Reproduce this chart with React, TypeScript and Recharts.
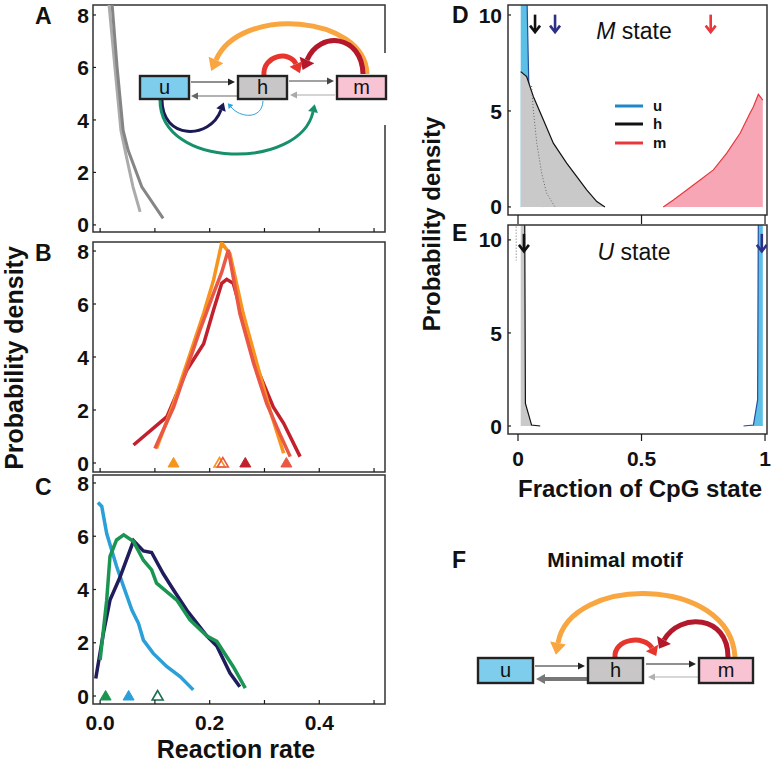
import React from "react";
import { ComposedChart, Line, Area, Scatter, XAxis, YAxis, ReferenceArea } from "recharts";

const FONT = '"Liberation Sans", Arial, Helvetica, sans-serif';
const INK = "#1a1a1a";

// ---- axes
const rateTicks = [0, 0.1, 0.2, 0.3, 0.4, 0.5];
const rateTickLabels = ["0.0", "", "0.2", "", "0.4", ""];
const densTicksLeft = [0, 2, 4, 6, 8];
const fracTicks = [0, 0.5, 1];
const fracTickLabels = ["0", "0.5", "1"];
const densTicksRight = [0, 5, 10];

// ---- panel A (grey curves)
const aGreyLight = [
  { x: 0.014, y: 8.9 }, { x: 0.027, y: 6.0 }, { x: 0.038, y: 3.6 },
  { x: 0.049, y: 2.5 }, { x: 0.06, y: 1.45 }, { x: 0.073, y: 0.5 },
];
const aGreyDark = [
  { x: 0.02, y: 8.9 }, { x: 0.031, y: 6.0 }, { x: 0.042, y: 3.6 },
  { x: 0.051, y: 2.85 }, { x: 0.076, y: 1.45 }, { x: 0.115, y: 0.25 },
];

// ---- panel B
const bOrange = [
  { x: 0.103, y: 0.55 }, { x: 0.134, y: 2.25 }, { x: 0.189, y: 5.65 }, { x: 0.207, y: 6.9 },
  { x: 0.222, y: 8.3 }, { x: 0.237, y: 7.9 }, { x: 0.261, y: 5.65 }, { x: 0.286, y: 3.77 },
  { x: 0.31, y: 2.0 }, { x: 0.335, y: 0.37 },
];
const bSalmon = [
  { x: 0.1, y: 0.55 }, { x: 0.134, y: 2.1 }, { x: 0.182, y: 5.0 }, { x: 0.207, y: 6.4 },
  { x: 0.222, y: 7.2 }, { x: 0.234, y: 8.04 }, { x: 0.255, y: 5.65 }, { x: 0.28, y: 3.77 },
  { x: 0.304, y: 2.25 }, { x: 0.328, y: 1.1 }, { x: 0.347, y: 0.24 },
];
const bDarkRed = [
  { x: 0.061, y: 0.68 }, { x: 0.122, y: 1.75 }, { x: 0.158, y: 3.5 }, { x: 0.189, y: 4.5 },
  { x: 0.207, y: 5.77 }, { x: 0.222, y: 6.78 }, { x: 0.231, y: 6.93 }, { x: 0.243, y: 6.78 },
  { x: 0.255, y: 5.9 }, { x: 0.28, y: 3.9 }, { x: 0.316, y: 2.12 }, { x: 0.335, y: 1.5 },
  { x: 0.365, y: 0.24 },
];
const bOrangeTri = [{ x: 0.134, y: 0 }];
const bOrangeOpen = [{ x: 0.218, y: 0 }];
const bSalmonOpen = [{ x: 0.224, y: 0 }];
const bDarkRedTri = [{ x: 0.265, y: 0 }];
const bSalmonTri = [{ x: 0.34, y: 0 }];

// ---- panel C
const cBlue = [
  { x: -0.004, y: 7.27 }, { x: 0.003, y: 7.12 }, { x: 0.012, y: 6.1 }, { x: 0.03, y: 4.87 },
  { x: 0.043, y: 4.1 }, { x: 0.058, y: 3.23 }, { x: 0.07, y: 2.73 }, { x: 0.079, y: 2.1 },
  { x: 0.097, y: 1.6 }, { x: 0.122, y: 1.1 }, { x: 0.146, y: 0.73 }, { x: 0.17, y: 0.23 },
];
const cNavy = [
  { x: -0.008, y: 0.66 }, { x: 0.006, y: 2.36 }, { x: 0.018, y: 3.6 }, { x: 0.036, y: 4.45 },
  { x: 0.061, y: 5.83 }, { x: 0.079, y: 5.45 }, { x: 0.094, y: 5.39 }, { x: 0.115, y: 4.6 },
  { x: 0.134, y: 3.98 }, { x: 0.158, y: 3.23 }, { x: 0.195, y: 2.25 }, { x: 0.213, y: 1.88 },
  { x: 0.237, y: 0.86 }, { x: 0.255, y: 0.35 },
];
const cGreen = [
  { x: 0.0, y: 1.35 }, { x: 0.012, y: 3.6 }, { x: 0.018, y: 5.24 }, { x: 0.03, y: 5.86 },
  { x: 0.043, y: 6.05 }, { x: 0.061, y: 5.8 }, { x: 0.079, y: 5.1 }, { x: 0.094, y: 4.74 },
  { x: 0.103, y: 4.24 }, { x: 0.14, y: 3.6 }, { x: 0.164, y: 2.86 }, { x: 0.195, y: 2.25 },
  { x: 0.213, y: 2.05 }, { x: 0.243, y: 1.1 }, { x: 0.265, y: 0.3 },
];
const cGreenTri = [{ x: 0.01, y: 0 }];
const cBlueTri = [{ x: 0.052, y: 0 }];
const cGreenOpen = [{ x: 0.105, y: 0 }];

// ---- panel D (M state)
const dU = [
  { x: 0.011, y: 15 }, { x: 0.034, y: 15 }, { x: 0.037, y: 10.5 }, { x: 0.044, y: 6.2 },
  { x: 0.05, y: 4 }, { x: 0.07, y: 1 }, { x: 0.1, y: 0 },
];
const dH = [
  { x: 0.011, y: 7.05 }, { x: 0.035, y: 6.79 }, { x: 0.062, y: 5.75 }, { x: 0.103, y: 4.53 },
  { x: 0.143, y: 3.32 }, { x: 0.197, y: 2.28 }, { x: 0.238, y: 1.58 }, { x: 0.278, y: 0.89 },
  { x: 0.319, y: 0.28 }, { x: 0.352, y: 0 },
];
const dDotted = [
  { x: 0.055, y: 6.3 }, { x: 0.062, y: 5.05 }, { x: 0.076, y: 3.32 }, { x: 0.096, y: 1.75 },
  { x: 0.116, y: 0.71 }, { x: 0.15, y: 0 },
];
const dM = [
  { x: 0.588, y: 0 }, { x: 0.629, y: 0.36 }, { x: 0.683, y: 0.88 }, { x: 0.737, y: 1.4 },
  { x: 0.791, y: 1.93 }, { x: 0.845, y: 2.8 }, { x: 0.899, y: 3.84 }, { x: 0.939, y: 4.88 },
  { x: 0.953, y: 5.22 }, { x: 0.973, y: 5.87 }, { x: 0.991, y: 5.57 },
];
const dArrowH = [{ x: 0.069, y: 9.55 }];
const dArrowU = [{ x: 0.15, y: 9.55 }];
const dArrowM = [{ x: 0.78, y: 9.55 }];

// ---- panel E (U state)
const eH = [
  { x: 0.011, y: 15 }, { x: 0.026, y: 15 }, { x: 0.03, y: 1.22 }, { x: 0.055, y: 0.05 },
  { x: 0.09, y: 0 },
];
const eDotted = [{ x: -0.008, y: 12 }, { x: -0.007, y: 8.9 }];
const eU = [
  { x: 0.913, y: 0 }, { x: 0.953, y: 0.05 }, { x: 0.97, y: 1.4 }, { x: 0.974, y: 15 },
  { x: 0.991, y: 15 },
];
const eArrowH = [{ x: 0.024, y: 9.84 }];
const eArrowU = [{ x: 0.987, y: 9.84 }];

type Box = { left: number; top: number; right: number; bottom: number };
const boxA: Box = { left: 93, top: 5, right: 385, bottom: 232 };
const boxB: Box = { left: 93, top: 242, right: 385, bottom: 472 };
const boxC: Box = { left: 93, top: 475, right: 385, bottom: 704 };
const boxD: Box = { left: 508, top: 5, right: 767, bottom: 215 };
const boxE: Box = { left: 508, top: 225, right: 767, bottom: 434 };

const PAD_L = 60;
const PAD_R = 12;
const PAD_T = 6;

const yTick = (gap: number, inward: number, size = 21) => (p: any) => (
  <g>
    <line x1={p.x} x2={p.x + inward} y1={p.y} y2={p.y} stroke={INK} strokeWidth={1.2} />
    <text x={p.x - gap} y={p.y} dy="0.36em" textAnchor="end" fontSize={size} fontWeight={700} fontFamily={FONT} fill="#111">
      {p.payload.value}
    </text>
  </g>
);

const xTick = (len: number, labels?: string[], baseline = 26) => (p: any) => (
  <g>
    <line x1={p.x} x2={p.x} y1={p.y} y2={p.y + len} stroke={INK} strokeWidth={1.2} />
    {labels && labels[p.index] ? (
      <text x={p.x} y={p.y + baseline} textAnchor="middle" fontSize={21} fontWeight={700} fontFamily={FONT} fill="#111">
        {labels[p.index]}
      </text>
    ) : null}
  </g>
);

const tri = (color: string, open = false) => (p: any) => (
  <polygon
    points={`${p.cx},${p.cy - 5.5} ${p.cx - 5.5},${p.cy + 4} ${p.cx + 5.5},${p.cy + 4}`}
    fill={open ? "#fff" : color}
    stroke={color}
    strokeWidth={open ? 1.6 : 1}
    fillOpacity={open ? 0 : 1}
  />
);

const downArrow = (color: string) => (p: any) => (
  <g stroke={color} strokeWidth={2.6} fill="none">
    <line x1={p.cx} y1={p.cy - 9} x2={p.cx} y2={p.cy + 8} />
    <polyline points={`${p.cx - 5},${p.cy + 2} ${p.cx},${p.cy + 8.5} ${p.cx + 5},${p.cy + 2}`} />
  </g>
);

function Panel({ box, xDomain, yDomain, xTicks, yTicks, below, xt, yt, children }: any) {
  return (
    <div style={{ position: "absolute", left: box.left - PAD_L, top: box.top - PAD_T }}>
      <ComposedChart
        width={box.right - box.left + PAD_L + PAD_R}
        height={box.bottom - box.top + PAD_T + below}
        margin={{ top: PAD_T, right: PAD_R, left: 0, bottom: 0 }}
      >
        <XAxis type="number" dataKey="x" domain={xDomain} ticks={xTicks} interval={0} allowDataOverflow
          height={below} tickSize={0} tickMargin={0} axisLine={false} tickLine={false} tick={xt} />
        <YAxis type="number" domain={yDomain} ticks={yTicks} interval={0} allowDataOverflow
          width={PAD_L} tickSize={0} tickMargin={0} axisLine={false} tickLine={false} tick={yt} />
        {children}
        <ReferenceArea x1={xDomain[0]} x2={xDomain[1]} y1={yDomain[0]} y2={yDomain[1]}
          fill="none" stroke="#333" strokeWidth={1.5} ifOverflow="visible" />
      </ComposedChart>
    </div>
  );
}

// ---- diagram helpers
function Head({ x, y, dx, dy, len, half, color }: any) {
  const tx = x + dx * len;
  const ty = y + dy * len;
  return (
    <polygon
      points={`${tx},${ty} ${x - dy * half},${y + dx * half} ${x + dy * half},${y - dx * half}`}
      fill={color}
    />
  );
}

function Bend({ pts, color, w, len, half }: any) {
  const [x0, y0, c1x, c1y, c2x, c2y, x3, y3] = pts;
  const L = Math.hypot(x3 - c2x, y3 - c2y);
  return (
    <g>
      <path d={`M${x0},${y0} C${c1x},${c1y} ${c2x},${c2y} ${x3},${y3}`} fill="none" stroke={color} strokeWidth={w} />
      <Head x={x3} y={y3} dx={(x3 - c2x) / L} dy={(y3 - c2y) / L} len={len} half={half} color={color} />
    </g>
  );
}

function Straight({ x1, y1, x2, y2, color, w = 1.2, len = 7, half = 3.5 }: any) {
  const L = Math.hypot(x2 - x1, y2 - y1);
  const dx = (x2 - x1) / L;
  const dy = (y2 - y1) / L;
  const bx = x2 - dx * len;
  const by = y2 - dy * len;
  return (
    <g>
      <line x1={x1} y1={y1} x2={bx} y2={by} stroke={color} strokeWidth={w} />
      <Head x={bx} y={by} dx={dx} dy={dy} len={len} half={half} color={color} />
    </g>
  );
}

function StateBox({ x, y, w, h, fill, label }: any) {
  return (
    <g>
      <rect x={x} y={y} width={w} height={h} fill={fill} stroke="#222" strokeWidth={2.4} />
      <text x={x + w / 2} y={y + h / 2 + 6.5} textAnchor="middle" fontSize={20} fontFamily={FONT} fill="#111">
        {label}
      </text>
    </g>
  );
}

const C_ORANGE = "#f9a540";
const C_DARKRED = "#b4182b";
const C_RED = "#e5352c";

function Overlay() {
  const bold = { fontFamily: FONT, fontWeight: 700, fill: "#111" } as const;
  return (
    <svg width={780} height={763} style={{ position: "absolute", left: 0, top: 0, pointerEvents: "none" }}>
      {/* panel letters */}
      <text x={35} y={24} fontSize={23} {...bold}>A</text>
      <text x={35} y={261} fontSize={23} {...bold}>B</text>
      <text x={35} y={495} fontSize={23} {...bold}>C</text>
      <text x={452} y={23} fontSize={23} {...bold}>D</text>
      <text x={452} y={241} fontSize={23} {...bold}>E</text>
      <text x={452} y={568} fontSize={23} {...bold}>F</text>

      {/* axis titles */}
      <text transform="translate(14,358) rotate(-90)" textAnchor="middle" dominantBaseline="central" fontSize={25} {...bold}>
        Probability density
      </text>
      <text transform="translate(431,224) rotate(-90)" textAnchor="middle" dominantBaseline="central" fontSize={24} {...bold}>
        Probability density
      </text>
      <text x={236} y={758} textAnchor="middle" fontSize={25} {...bold}>Reaction rate</text>
      <text x={640} y={497} textAnchor="middle" fontSize={24} {...bold}>Fraction of CpG state</text>

      {/* D / E annotations */}
      <text x={634} y={39} textAnchor="middle" fontSize={23} fontFamily={FONT} fill="#111">
        <tspan fontStyle="italic">M</tspan> state
      </text>
      <text x={634} y={260} textAnchor="middle" fontSize={23} fontFamily={FONT} fill="#111">
        <tspan fontStyle="italic">U</tspan> state
      </text>
      <g>
        <line x1={615} x2={643} y1={106} y2={106} stroke="#1f86c8" strokeWidth={3} />
        <line x1={615} x2={643} y1={124} y2={124} stroke="#111" strokeWidth={3} />
        <line x1={615} x2={643} y1={143} y2={143} stroke="#e8383d" strokeWidth={3} />
        <text x={653} y={111} fontSize={15} {...bold}>u</text>
        <text x={653} y={129} fontSize={15} {...bold}>h</text>
        <text x={653} y={148} fontSize={15} {...bold}>m</text>
      </g>

      {/* motif in A */}
      <rect x={378} y={53} width={14} height={72} fill="#fff" />
      <Bend pts={[367, 74, 365, 15, 240, 5, 216, 60]} color={C_ORANGE} w={5} len={12} half={8} />
      <Bend pts={[363, 74, 362, 35, 320, 30, 307, 60]} color={C_DARKRED} w={5} len={11} half={8} />
      <Bend pts={[264, 76, 262, 55, 290, 50, 296, 64]} color={C_RED} w={5} len={10} half={7} />
      <Bend pts={[162, 100, 162, 140, 210, 140, 221, 110]} color="#1c1a55" w={3} len={8} half={5} />
      <Bend pts={[263, 101, 262, 120, 240, 118, 231, 107]} color="#2ba3dc" w={1} len={5} half={3} />
      <Bend pts={[160, 100, 160, 170, 300, 170, 313, 112]} color="#16906a" w={3} len={8} half={5} />
      <Straight x1={191} y1={82} x2={235} y2={82} color="#222" />
      <Straight x1={237} y1={96} x2={191} y2={96} color="#666" />
      <Straight x1={289} y1={81} x2={334} y2={81} color="#444" />
      <Straight x1={335} y1={95} x2={290} y2={95} color="#aaa" />
      <StateBox x={140} y={76} w={49} h={23} fill="#7ecdec" label="u" />
      <StateBox x={238} y={76} w={49} h={23} fill="#c8c6c6" label="h" />
      <StateBox x={337} y={76} w={49} h={23} fill="#f8c4d4" label="m" />

      {/* F: minimal motif */}
      <text x={615} y={567} textAnchor="middle" fontSize={21} {...bold}>Minimal motif</text>
      <Bend pts={[735, 657, 730, 575, 570, 575, 558, 643]} color={C_ORANGE} w={5} len={12} half={8} />
      <Bend pts={[728, 657, 728, 615, 680, 612, 664, 640]} color={C_DARKRED} w={5} len={10} half={8} />
      <Bend pts={[615, 658, 613, 638, 645, 635, 652, 648]} color={C_RED} w={5} len={9} half={7} />
      <Straight x1={535} y1={666} x2={585} y2={666} color="#222" />
      <Straight x1={587} y1={679} x2={536} y2={679} color="#777" w={4} len={9} half={5} />
      <Straight x1={646} y1={664} x2={696} y2={664} color="#222" />
      <Straight x1={698} y1={677} x2={648} y2={677} color="#b0b0b0" />
      <StateBox x={478} y={658} w={55} h={25} fill="#7ecdec" label="u" />
      <StateBox x={588} y={658} w={55} h={25} fill="#c8c6c6" label="h" />
      <StateBox x={699} y={658} w={54} h={25} fill="#f8c4d4" label="m" />
    </svg>
  );
}

const lineProps = { dataKey: "y", dot: false, activeDot: false, isAnimationActive: false, type: "linear" as const };

export default function App() {
  const rateDom = [-0.013, 0.52];
  const fracDom = [-0.0405, 1.008];
  return (
    <div style={{ position: "relative", width: 780, height: 763, background: "#fff", overflow: "hidden", fontFamily: FONT }}>
      <style>{"body{margin:0}"}</style>

      <Panel box={boxA} xDomain={rateDom} yDomain={[-0.27, 8.38]} xTicks={rateTicks} yTicks={densTicksLeft}
        below={8} xt={xTick(-4)} yt={yTick(4, 3)}>
        <Line data={aGreyLight} {...lineProps} stroke="#ababab" strokeWidth={3} />
        <Line data={aGreyDark} {...lineProps} stroke="#858585" strokeWidth={3} />
      </Panel>

      <Panel box={boxB} xDomain={rateDom} yDomain={[-0.34, 8.34]} xTicks={rateTicks} yTicks={densTicksLeft}
        below={3} xt={xTick(-4)} yt={yTick(4, 3)}>
        <Line data={bDarkRed} {...lineProps} stroke="#c3202d" strokeWidth={3.5} />
        <Line data={bOrange} {...lineProps} stroke="#f7941e" strokeWidth={3.5} />
        <Line data={bSalmon} {...lineProps} stroke="#ea5744" strokeWidth={3.5} />
        <Scatter data={bOrangeTri} dataKey="y" isAnimationActive={false} shape={tri("#f7941e")} />
        <Scatter data={bOrangeOpen} dataKey="y" isAnimationActive={false} shape={tri("#f7941e", true)} />
        <Scatter data={bSalmonOpen} dataKey="y" isAnimationActive={false} shape={tri("#ea5744", true)} />
        <Scatter data={bDarkRedTri} dataKey="y" isAnimationActive={false} shape={tri("#c3202d")} />
        <Scatter data={bSalmonTri} dataKey="y" isAnimationActive={false} shape={tri("#ea5744")} />
      </Panel>

      <Panel box={boxC} xDomain={rateDom} yDomain={[-0.3, 8.3]} xTicks={rateTicks} yTicks={densTicksLeft}
        below={40} xt={xTick(-4, rateTickLabels, 26)} yt={yTick(4, 3)}>
        <Line data={cBlue} {...lineProps} stroke="#2a9fd8" strokeWidth={3.5} />
        <Line data={cNavy} {...lineProps} stroke="#211c5c" strokeWidth={3.5} />
        <Line data={cGreen} {...lineProps} stroke="#1a9552" strokeWidth={3.5} />
        <Scatter data={cGreenTri} dataKey="y" isAnimationActive={false} shape={tri("#1a9552")} />
        <Scatter data={cBlueTri} dataKey="y" isAnimationActive={false} shape={tri("#2a9fd8")} />
        <Scatter data={cGreenOpen} dataKey="y" isAnimationActive={false} shape={tri("#1c7050", true)} />
      </Panel>

      <Panel box={boxD} xDomain={fracDom} yDomain={[-0.42, 10.52]} xTicks={fracTicks} yTicks={densTicksRight}
        below={12} xt={xTick(9)} yt={yTick(6, 3)}>
        <Area data={dU} dataKey="y" type="linear" baseValue={0} fill="#5cbfe6" fillOpacity={1} stroke="#24509f" strokeWidth={1.2} isAnimationActive={false} dot={false} activeDot={false} />
        <Area data={dH} dataKey="y" type="linear" baseValue={0} fill="#c9c9c9" fillOpacity={1} stroke="#111" strokeWidth={1.2} isAnimationActive={false} dot={false} activeDot={false} />
        <Line data={dDotted} {...lineProps} stroke="#666" strokeWidth={1} strokeDasharray="1 2" />
        <Area data={dM} dataKey="y" type="linear" baseValue={0} fill="#f6a6b5" fillOpacity={1} stroke="#e8383d" strokeWidth={1.2} isAnimationActive={false} dot={false} activeDot={false} />
        <Scatter data={dArrowH} dataKey="y" isAnimationActive={false} shape={downArrow("#111")} />
        <Scatter data={dArrowU} dataKey="y" isAnimationActive={false} shape={downArrow("#2d3186")} />
        <Scatter data={dArrowM} dataKey="y" isAnimationActive={false} shape={downArrow("#e8383d")} />
      </Panel>

      <Panel box={boxE} xDomain={fracDom} yDomain={[-0.43, 10.8]} xTicks={fracTicks} yTicks={densTicksRight}
        below={40} xt={xTick(7, fracTickLabels, 32)} yt={yTick(6, 3)}>
        <Area data={eH} dataKey="y" type="linear" baseValue={0} fill="#c9c9c9" fillOpacity={1} stroke="#111" strokeWidth={1.2} isAnimationActive={false} dot={false} activeDot={false} />
        <Line data={eDotted} {...lineProps} stroke="#666" strokeWidth={1} strokeDasharray="1 2" />
        <Area data={eU} dataKey="y" type="linear" baseValue={0} fill="#5cbfe6" fillOpacity={1} stroke="#24509f" strokeWidth={1.2} isAnimationActive={false} dot={false} activeDot={false} />
        <Scatter data={eArrowH} dataKey="y" isAnimationActive={false} shape={downArrow("#111")} />
        <Scatter data={eArrowU} dataKey="y" isAnimationActive={false} shape={downArrow("#2d3186")} />
      </Panel>

      <Overlay />
    </div>
  );
}
